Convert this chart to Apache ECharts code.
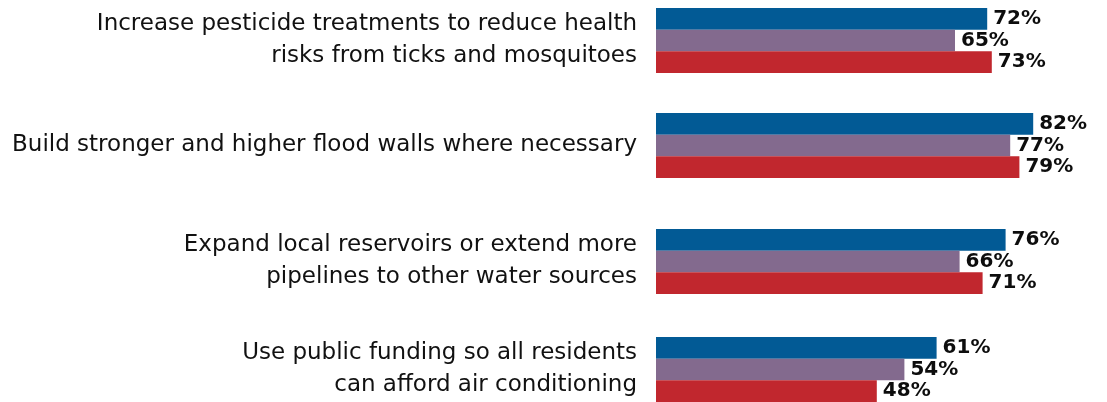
<!DOCTYPE html>
<html>
<head>
<meta charset="utf-8">
<script src="https://cdn.jsdelivr.net/npm/echarts@6/dist/echarts.min.js"></script>
<style>
  html, body { margin: 0; padding: 0; background: #ffffff; }
  #chart { width: 1107px; height: 402px; }
</style>
</head>
<body>
<div id="chart"></div>
<script>
// Proposed measures, one group of bars each
const categories = [
  'Increase pesticide treatments to reduce health\nrisks from ticks and mosquitoes',
  'Build stronger and higher flood walls where necessary',
  'Expand local reservoirs or extend more\npipelines to other water sources',
  'Use public funding so all residents\ncan afford air conditioning'
];

// Percent in favour, per group of respondents
const seriesNames = ['Group 1', 'Group 2', 'Group 3'];
const valuesBlue   = [72, 82, 76, 61];
const valuesPurple = [65, 77, 66, 54];
const valuesRed    = [73, 79, 71, 48];
const seriesValues = [valuesBlue, valuesPurple, valuesRed];
const seriesColors = ['#025a95', '#836a8e', '#c1272e'];

// Layout: each measure gets its own band
const bandTops = [8, 113, 229, 337];
const bandHeight = 65;
const plotLeft = 656;
const plotWidth = 414;
const axisMax = 90;

const grids = [], xAxes = [], yAxes = [], series = [];
categories.forEach((cat, i) => {
  grids.push({ left: plotLeft, width: plotWidth, top: bandTops[i], height: bandHeight });
  xAxes.push({
    type: 'value', gridIndex: i, min: 0, max: axisMax,
    show: false, splitLine: { show: false }
  });
  yAxes.push({
    type: 'category', gridIndex: i, data: [cat], inverse: true,
    axisLine: { show: false }, axisTick: { show: false }, splitLine: { show: false },
    axisLabel: {
      margin: 19, align: 'right',
      fontFamily: 'DejaVu Sans, sans-serif',
      fontSize: 23, lineHeight: 32, color: '#111111'
    }
  });
  seriesValues.forEach((vals, s) => {
    series.push({
      type: 'bar', name: seriesNames[s],
      xAxisIndex: i, yAxisIndex: i,
      data: [vals[i]],
      barGap: '0%', barCategoryGap: '0%',
      itemStyle: { color: seriesColors[s] },
      label: {
        show: true, position: 'right', distance: 6,
        formatter: '{c}%',
        fontFamily: 'DejaVu Sans, sans-serif',
        fontWeight: 'bold', fontSize: 20, color: '#0d0d0d',
        textBorderColor: '#ffffff', textBorderWidth: 2
      },
      animation: false
    });
  });
});

const chart = echarts.init(document.getElementById('chart'), null, { renderer: 'canvas' });
chart.setOption({
  backgroundColor: '#ffffff',
  animation: false,
  grid: grids,
  xAxis: xAxes,
  yAxis: yAxes,
  series: series
});
</script>
</body>
</html>
